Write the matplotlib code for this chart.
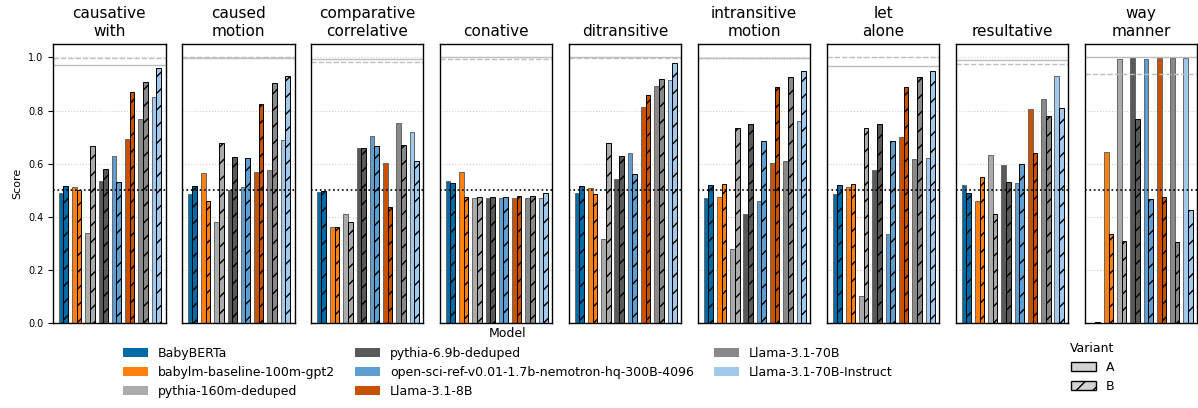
import numpy as np
import matplotlib.pyplot as plt
from matplotlib.patches import Patch

# constructions (panel titles)
constructions = ["causative\nwith", "caused\nmotion", "comparative\ncorrelative",
                 "conative", "ditransitive", "intransitive\nmotion", "let\nalone",
                 "resultative", "way\nmanner"]

models = ["BabyBERTa", "babylm-baseline-100m-gpt2", "pythia-160m-deduped",
          "pythia-6.9b-deduped", "open-sci-ref-v0.01-1.7b-nemotron-hq-300B-4096",
          "Llama-3.1-8B", "Llama-3.1-70B", "Llama-3.1-70B-Instruct"]

colors = ["#006BA4", "#FF800E", "#ABABAB", "#595959", "#5F9ED1",
          "#C85200", "#898989", "#A2C8EC"]

# variant A scores, one row per construction, one column per model
scores_a = [
    [0.489, 0.512, 0.340, 0.536, 0.629, 0.694, 0.767, 0.849],
    [0.487, 0.565, 0.380, 0.500, 0.513, 0.567, 0.577, 0.688],
    [0.494, 0.360, 0.411, 0.660, 0.703, 0.604, 0.753, 0.720],
    [0.535, 0.569, 0.469, 0.469, 0.469, 0.469, 0.469, 0.470],
    [0.491, 0.509, 0.316, 0.543, 0.640, 0.815, 0.893, 0.913],
    [0.472, 0.474, 0.278, 0.411, 0.458, 0.604, 0.611, 0.762],
    [0.487, 0.511, 0.102, 0.577, 0.336, 0.701, 0.618, 0.621],
    [0.519, 0.458, 0.631, 0.595, 0.526, 0.806, 0.844, 0.928],
    [0.000, 0.644, 0.992, 1.000, 0.992, 0.999, 0.999, 0.999],
]

# variant B scores
scores_b = [
    [0.517, 0.501, 0.667, 0.580, 0.531, 0.869, 0.909, 0.960],
    [0.517, 0.459, 0.677, 0.625, 0.621, 0.823, 0.902, 0.931],
    [0.497, 0.361, 0.379, 0.660, 0.665, 0.436, 0.669, 0.609],
    [0.527, 0.475, 0.475, 0.475, 0.475, 0.478, 0.480, 0.489],
    [0.517, 0.487, 0.679, 0.629, 0.560, 0.860, 0.919, 0.977],
    [0.521, 0.525, 0.735, 0.750, 0.686, 0.889, 0.927, 0.950],
    [0.521, 0.525, 0.735, 0.750, 0.686, 0.889, 0.927, 0.950],
    [0.489, 0.551, 0.411, 0.532, 0.599, 0.640, 0.780, 0.808],
    [0.003, 0.336, 0.308, 0.769, 0.468, 0.475, 0.306, 0.426],
]

# reference lines near the top of each panel
ref_solid = [0.970, 0.997, 0.992, 1.000, 1.000, 0.996, 0.967, 0.991, 1.000]
ref_dashed = [0.999, 1.000, 0.984, 0.992, 0.999, 0.999, 1.000, 0.974, 0.937]

fig, axes = plt.subplots(1, len(constructions), figsize=(11.98, 4.08), sharey=True)
fig.subplots_adjust(left=0.0443, right=0.9995, top=0.892, bottom=0.208, wspace=0.147)

x = np.arange(len(models))
w = 0.35

for i, ax in enumerate(axes):
    ax.set_axisbelow(True)
    ax.yaxis.grid(True, linestyle=':', color='#d0d0d0', linewidth=0.8)
    ax.bar(x - w / 2, scores_a[i], width=w, color=colors, edgecolor='0.4', linewidth=0.7)
    ax.bar(x + w / 2, scores_b[i], width=w, color=colors, edgecolor='black',
           hatch='//', linewidth=0.7)
    ax.axhline(0.5, color='black', linestyle=':', linewidth=1.2)
    ax.axhline(ref_solid[i], color='#bdbdbd', linewidth=1.0)
    ax.axhline(ref_dashed[i], color='#bdbdbd', linestyle='--', linewidth=1.0)
    ax.set_title(constructions[i], fontsize=11)
    ax.set_xticks([])
    ax.set_xlim(-0.78, 7.70)
    ax.set_ylim(0, 1.05)
    for s in ax.spines.values():
        s.set_color('black')
        s.set_linewidth(1.0)
    if i > 0:
        ax.tick_params(axis='y', left=False)

axes[0].set_yticks([0.0, 0.2, 0.4, 0.6, 0.8, 1.0])
axes[0].tick_params(axis='y', labelsize=7)
axes[0].set_ylabel("Score", fontsize=8)

model_handles = [Patch(facecolor=c, label=m) for c, m in zip(colors, models)]
fig.legend(handles=model_handles, title="Model", ncol=3, loc='upper center',
           bbox_to_anchor=(0.424, 0.225), frameon=False, fontsize=9, title_fontsize=9,
           columnspacing=1.6)

variant_handles = [Patch(facecolor='#d3d3d3', edgecolor='black', label='A'),
                   Patch(facecolor='#d3d3d3', edgecolor='black', hatch='//', label='B')]
fig.legend(handles=variant_handles, title="Variant", loc='upper left',
           bbox_to_anchor=(0.884, 0.19), frameon=False, fontsize=9, title_fontsize=9)

fig.savefig("out.png", dpi=100)
